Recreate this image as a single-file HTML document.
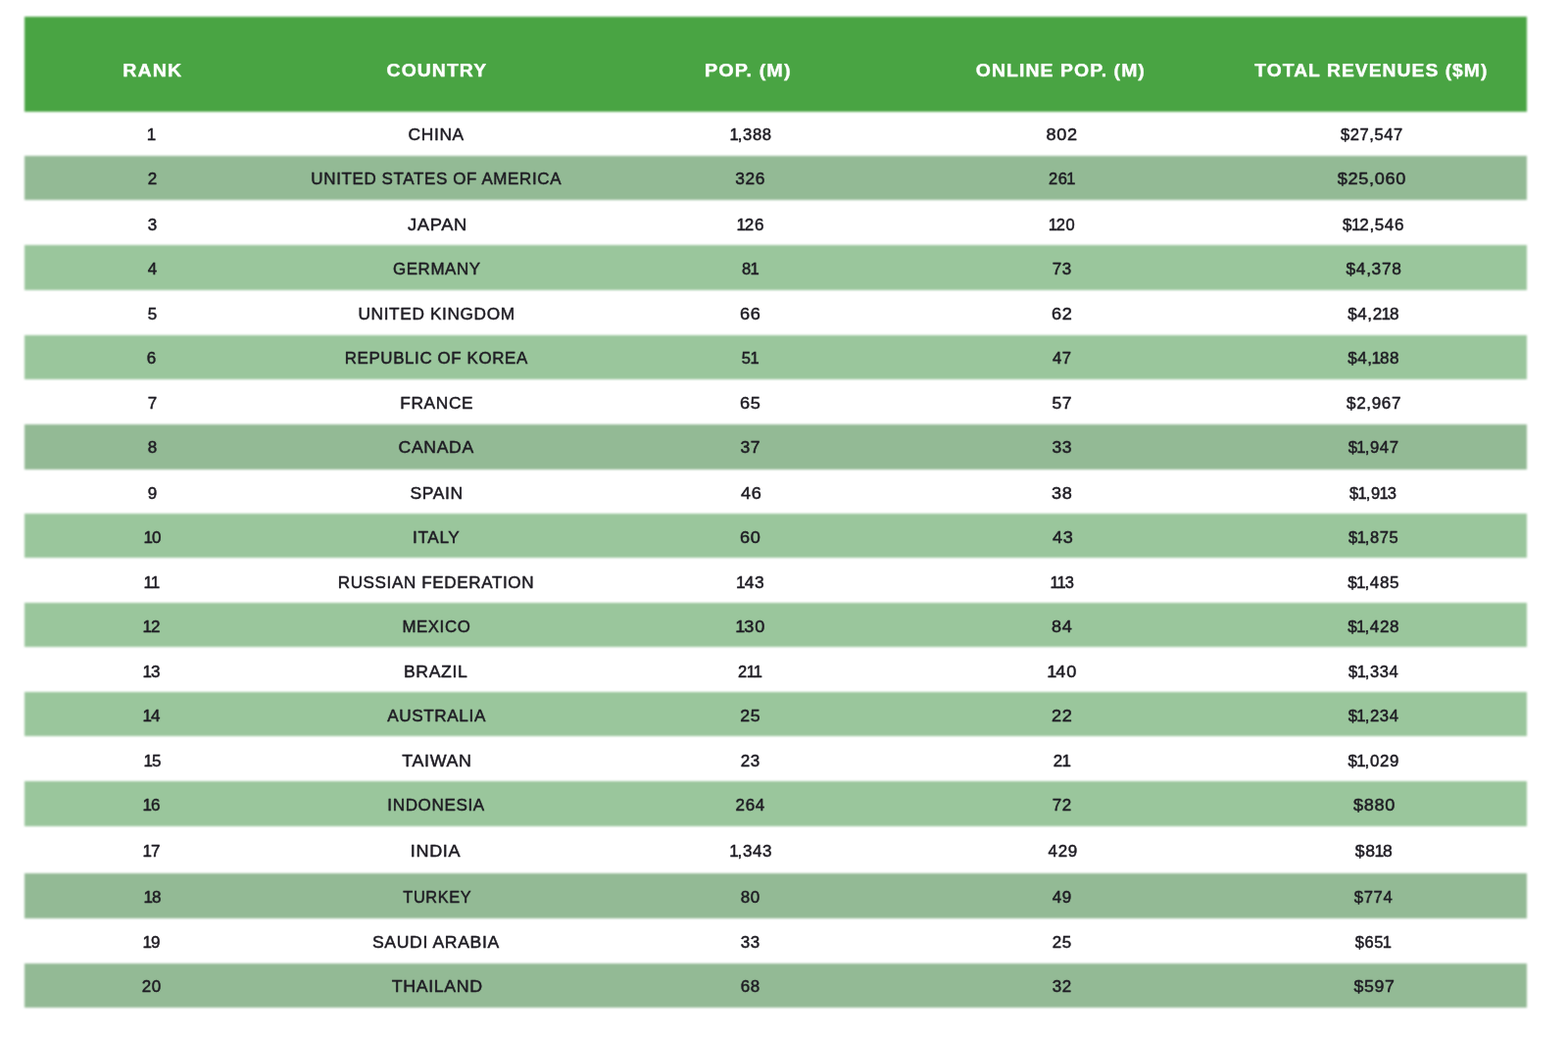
<!DOCTYPE html>
<html><head><meta charset="utf-8"><title>Top 20 Countries by Game Revenues</title>
<style>
html,body{margin:0;padding:0;background:#fff;}
body{width:1600px;height:1058px;position:relative;overflow:hidden;font-family:"Liberation Sans",Arial,sans-serif;}
.hdr{position:absolute;left:25px;top:17px;width:1533px;height:96.6px;background:#49a443;filter:blur(0.8px);}
.row{position:absolute;left:25px;width:1533px;filter:blur(0.8px);}
.g1{background:#9ac69c;}
.g2{background:#93ba95;}
.c{position:absolute;width:400px;height:20px;text-align:center;white-space:nowrap;}
.c span{display:inline-block;}
.h span{margin-right:-1px;}
.d span{margin-right:-0.6px;}
.d i{font-style:normal;margin:0 -1.6px 0 -1.2px;}
.h{color:#fff;font-weight:700;font-size:18.5px;line-height:20px;letter-spacing:1px;-webkit-text-stroke:0.25px #fff;text-shadow:0 0 1px rgba(255,255,255,0.5);}
.d{color:#1f1d24;font-weight:400;font-size:16.5px;line-height:20px;letter-spacing:0.6px;-webkit-text-stroke:0.35px #1f1d24;text-shadow:0 0 1px rgba(31,29,36,0.5);}
</style></head><body>
<div class="hdr"></div>
<div class="row g2" style="top:159.2px;height:45.1px"></div>
<div class="row g1" style="top:250.3px;height:45.5px"></div>
<div class="row g1" style="top:341.6px;height:45.4px"></div>
<div class="row g2" style="top:432.5px;height:46.1px"></div>
<div class="row g1" style="top:523.6px;height:45.7px"></div>
<div class="row g1" style="top:614.7px;height:45.5px"></div>
<div class="row g1" style="top:706.3px;height:45.2px"></div>
<div class="row g1" style="top:797.3px;height:45.6px"></div>
<div class="row g2" style="top:891px;height:45.8px"></div>
<div class="row g2" style="top:982.5px;height:45px"></div>
<div class="c h" style="left:-44.9px;top:62px"><span style="transform:scaleX(1.0588)">RANK</span></div>
<div class="c h" style="left:245.45px;top:62px"><span style="transform:scaleX(1.0492)">COUNTRY</span></div>
<div class="c h" style="left:562.85px;top:62px"><span style="transform:scaleX(1.0703)">POP. (M)</span></div>
<div class="c h" style="left:881.5px;top:62px"><span style="transform:scaleX(1.0506)">ONLINE POP. (M)</span></div>
<div class="c h" style="left:1199.2px;top:62px"><span style="transform:scaleX(1.0414)">TOTAL REVENUES ($M)</span></div>
<div class="c d" style="left:-45.52px;top:127.4px"><span style="transform:scaleX(1.0300)"><i>1</i></span></div>
<div class="c d" style="left:245.3px;top:127.4px"><span style="transform:scaleX(1.0526)">CHINA</span></div>
<div class="c d" style="left:566.42px;top:127.4px"><span style="transform:scaleX(1.0105)"><i>1</i>,388</span></div>
<div class="c d" style="left:883.42px;top:127.4px"><span style="transform:scaleX(1.1000)">802</span></div>
<div class="c d" style="left:1199.3px;top:127.4px"><span style="transform:scaleX(1.0017)">$27,547</span></div>
<div class="c d" style="left:-44.9px;top:172.2px"><span style="transform:scaleX(1.0300)">2</span></div>
<div class="c d" style="left:245.3px;top:172.2px"><span style="transform:scaleX(1.0292)">UNITED STATES OF AMERICA</span></div>
<div class="c d" style="left:565.8px;top:172.2px"><span style="transform:scaleX(1.0519)">326</span></div>
<div class="c d" style="left:882.95px;top:172.2px"><span style="transform:scaleX(1.0000)">26<i>1</i></span></div>
<div class="c d" style="left:1199.3px;top:172.2px"><span style="transform:scaleX(1.1000)">$25,060</span></div>
<div class="c d" style="left:-44.9px;top:219.2px"><span style="transform:scaleX(1.0300)">3</span></div>
<div class="c d" style="left:245.92px;top:219.2px"><span style="transform:scaleX(1.1124)">JAPAN</span></div>
<div class="c d" style="left:565.8px;top:219.2px"><span style="transform:scaleX(1.0300)"><i>1</i>26</span></div>
<div class="c d" style="left:883.8px;top:219.2px"><span style="transform:scaleX(1.0000)"><i>1</i>20</span></div>
<div class="c d" style="left:1201.4px;top:219.2px"><span style="transform:scaleX(1.0303)">$<i>1</i>2,546</span></div>
<div class="c d" style="left:-44.9px;top:264.3px"><span style="transform:scaleX(1.0300)">4</span></div>
<div class="c d" style="left:245.3px;top:264.3px"><span style="transform:scaleX(1.0254)">GERMANY</span></div>
<div class="c d" style="left:564.93px;top:264.3px"><span style="transform:scaleX(1.0074)">8<i>1</i></span></div>
<div class="c d" style="left:883.8px;top:264.3px"><span style="transform:scaleX(1.0300)">73</span></div>
<div class="c d" style="left:1201.4px;top:264.3px"><span style="transform:scaleX(1.0525)">$4,378</span></div>
<div class="c d" style="left:-44.5px;top:310px"><span style="transform:scaleX(1.0300)">5</span></div>
<div class="c d" style="left:245.3px;top:310px"><span style="transform:scaleX(1.0460)">UNITED KINGDOM</span></div>
<div class="c d" style="left:565.68px;top:310px"><span style="transform:scaleX(1.1000)">66</span></div>
<div class="c d" style="left:883.72px;top:310px"><span style="transform:scaleX(1.1000)">62</span></div>
<div class="c d" style="left:1201.4px;top:310px"><span style="transform:scaleX(1.0340)">$4,2<i>1</i>8</span></div>
<div class="c d" style="left:-45.06px;top:354.9px"><span style="transform:scaleX(1.0300)">6</span></div>
<div class="c d" style="left:245.3px;top:354.9px"><span style="transform:scaleX(1.0245)">REPUBLIC OF KOREA</span></div>
<div class="c d" style="left:564.9px;top:354.9px"><span style="transform:scaleX(1.0000)">5<i>1</i></span></div>
<div class="c d" style="left:883.8px;top:354.9px"><span style="transform:scaleX(1.0096)">47</span></div>
<div class="c d" style="left:1201.4px;top:354.9px"><span style="transform:scaleX(1.0340)">$4,<i>1</i>88</span></div>
<div class="c d" style="left:-44.9px;top:401.2px"><span style="transform:scaleX(1.0300)">7</span></div>
<div class="c d" style="left:245.3px;top:401.2px"><span style="transform:scaleX(1.0500)">FRANCE</span></div>
<div class="c d" style="left:565.8px;top:401.2px"><span style="transform:scaleX(1.1000)">65</span></div>
<div class="c d" style="left:883.8px;top:401.2px"><span style="transform:scaleX(1.0628)">57</span></div>
<div class="c d" style="left:1201.4px;top:401.2px"><span style="transform:scaleX(1.0340)">$2,967</span></div>
<div class="c d" style="left:-44.9px;top:446.3px"><span style="transform:scaleX(1.0300)">8</span></div>
<div class="c d" style="left:245.3px;top:446.3px"><span style="transform:scaleX(1.0662)">CANADA</span></div>
<div class="c d" style="left:565.8px;top:446.3px"><span style="transform:scaleX(1.0628)">37</span></div>
<div class="c d" style="left:883.8px;top:446.3px"><span style="transform:scaleX(1.0628)">33</span></div>
<div class="c d" style="left:1201.4px;top:446.3px"><span style="transform:scaleX(1.0142)">$<i>1</i>,947</span></div>
<div class="c d" style="left:-44.9px;top:493px"><span style="transform:scaleX(1.0300)">9</span></div>
<div class="c d" style="left:245.3px;top:493px"><span style="transform:scaleX(1.0588)">SPAIN</span></div>
<div class="c d" style="left:566.35px;top:493px"><span style="transform:scaleX(1.1000)">46</span></div>
<div class="c d" style="left:883.82px;top:493px"><span style="transform:scaleX(1.1000)">38</span></div>
<div class="c d" style="left:1201.28px;top:493px"><span style="transform:scaleX(1.0006)">$<i>1</i>,9<i>1</i>3</span></div>
<div class="c d" style="left:-44.02px;top:537.7px"><span style="transform:scaleX(1.0300)"><i>1</i>0</span></div>
<div class="c d" style="left:245.3px;top:537.7px"><span style="transform:scaleX(1.0435)">ITALY</span></div>
<div class="c d" style="left:565.8px;top:537.7px"><span style="transform:scaleX(1.1000)">60</span></div>
<div class="c d" style="left:884.35px;top:537.7px"><span style="transform:scaleX(1.0970)">43</span></div>
<div class="c d" style="left:1201.4px;top:537.7px"><span style="transform:scaleX(1.0000)">$<i>1</i>,875</span></div>
<div class="c d" style="left:-44.9px;top:583.8px"><span style="transform:scaleX(1.0300)"><i>1</i><i>1</i></span></div>
<div class="c d" style="left:245.06px;top:583.8px"><span style="transform:scaleX(1.0342)">RUSSIAN FEDERATION</span></div>
<div class="c d" style="left:565.8px;top:583.8px"><span style="transform:scaleX(1.0529)"><i>1</i>43</span></div>
<div class="c d" style="left:884.37px;top:583.8px"><span style="transform:scaleX(1.0000)"><i>1</i><i>1</i>3</span></div>
<div class="c d" style="left:1201.4px;top:583.8px"><span style="transform:scaleX(1.0340)">$<i>1</i>,485</span></div>
<div class="c d" style="left:-44.74px;top:629px"><span style="transform:scaleX(1.0300)"><i>1</i>2</span></div>
<div class="c d" style="left:245.3px;top:629px"><span style="transform:scaleX(1.0181)">MEXICO</span></div>
<div class="c d" style="left:565.8px;top:629px"><span style="transform:scaleX(1.1000)"><i>1</i>30</span></div>
<div class="c d" style="left:883.8px;top:629px"><span style="transform:scaleX(1.0955)">84</span></div>
<div class="c d" style="left:1201.4px;top:629px"><span style="transform:scaleX(1.0340)">$<i>1</i>,428</span></div>
<div class="c d" style="left:-44.74px;top:675.2px"><span style="transform:scaleX(1.0300)"><i>1</i>3</span></div>
<div class="c d" style="left:244.81px;top:675.2px"><span style="transform:scaleX(1.0667)">BRAZIL</span></div>
<div class="c d" style="left:564.7px;top:675.2px"><span style="transform:scaleX(1.0000)">2<i>1</i><i>1</i></span></div>
<div class="c d" style="left:883.8px;top:675.2px"><span style="transform:scaleX(1.1000)"><i>1</i>40</span></div>
<div class="c d" style="left:1201.4px;top:675.2px"><span style="transform:scaleX(1.0000)">$<i>1</i>,334</span></div>
<div class="c d" style="left:-44.5px;top:720.1px"><span style="transform:scaleX(1.0300)"><i>1</i>4</span></div>
<div class="c d" style="left:245.3px;top:720.1px"><span style="transform:scaleX(1.0384)">AUSTRALIA</span></div>
<div class="c d" style="left:565.8px;top:720.1px"><span style="transform:scaleX(1.0743)">25</span></div>
<div class="c d" style="left:883.8px;top:720.1px"><span style="transform:scaleX(1.1000)">22</span></div>
<div class="c d" style="left:1201.4px;top:720.1px"><span style="transform:scaleX(1.0142)">$<i>1</i>,234</span></div>
<div class="c d" style="left:-44.02px;top:766.2px"><span style="transform:scaleX(1.0300)"><i>1</i>5</span></div>
<div class="c d" style="left:245.3px;top:766.2px"><span style="transform:scaleX(1.0832)">TAIWAN</span></div>
<div class="c d" style="left:565.8px;top:766.2px"><span style="transform:scaleX(1.0300)">23</span></div>
<div class="c d" style="left:882.93px;top:766.2px"><span style="transform:scaleX(1.0300)">2<i>1</i></span></div>
<div class="c d" style="left:1201.4px;top:766.2px"><span style="transform:scaleX(1.0226)">$<i>1</i>,029</span></div>
<div class="c d" style="left:-44.74px;top:811.2px"><span style="transform:scaleX(1.0300)"><i>1</i>6</span></div>
<div class="c d" style="left:244.38px;top:811.2px"><span style="transform:scaleX(1.0344)">INDONESIA</span></div>
<div class="c d" style="left:565.8px;top:811.2px"><span style="transform:scaleX(1.0300)">264</span></div>
<div class="c d" style="left:883.8px;top:811.2px"><span style="transform:scaleX(1.0300)">72</span></div>
<div class="c d" style="left:1202.04px;top:811.2px"><span style="transform:scaleX(1.1000)">$880</span></div>
<div class="c d" style="left:-44.74px;top:858px"><span style="transform:scaleX(1.0300)"><i>1</i>7</span></div>
<div class="c d" style="left:244.32px;top:858px"><span style="transform:scaleX(1.0915)">INDIA</span></div>
<div class="c d" style="left:566.42px;top:858px"><span style="transform:scaleX(1.0300)"><i>1</i>,343</span></div>
<div class="c d" style="left:884.36px;top:858px"><span style="transform:scaleX(1.0300)">429</span></div>
<div class="c d" style="left:1201.4px;top:858px"><span style="transform:scaleX(1.0637)">$8<i>1</i>8</span></div>
<div class="c d" style="left:-44.02px;top:904.5px"><span style="transform:scaleX(1.0300)"><i>1</i>8</span></div>
<div class="c d" style="left:245.58px;top:904.5px"><span style="transform:scaleX(0.9900)">TURKEY</span></div>
<div class="c d" style="left:565.8px;top:904.5px"><span style="transform:scaleX(1.0300)">80</span></div>
<div class="c d" style="left:883.8px;top:904.5px"><span style="transform:scaleX(1.0300)">49</span></div>
<div class="c d" style="left:1201.4px;top:904.5px"><span style="transform:scaleX(1.0095)">$774</span></div>
<div class="c d" style="left:-44.74px;top:950.8px"><span style="transform:scaleX(1.0300)"><i>1</i>9</span></div>
<div class="c d" style="left:244.75px;top:950.8px"><span style="transform:scaleX(1.0666)">SAUDI ARABIA</span></div>
<div class="c d" style="left:565.8px;top:950.8px"><span style="transform:scaleX(1.0300)">33</span></div>
<div class="c d" style="left:883.8px;top:950.8px"><span style="transform:scaleX(1.0300)">25</span></div>
<div class="c d" style="left:1200.53px;top:950.8px"><span style="transform:scaleX(1.0000)">$65<i>1</i></span></div>
<div class="c d" style="left:-45.14px;top:996px"><span style="transform:scaleX(1.0300)">20</span></div>
<div class="c d" style="left:245.62px;top:996px"><span style="transform:scaleX(1.0769)">THAILAND</span></div>
<div class="c d" style="left:565.8px;top:996px"><span style="transform:scaleX(1.0300)">68</span></div>
<div class="c d" style="left:883.8px;top:996px"><span style="transform:scaleX(1.0300)">32</span></div>
<div class="c d" style="left:1202.04px;top:996px"><span style="transform:scaleX(1.0769)">$597</span></div>
</body></html>
